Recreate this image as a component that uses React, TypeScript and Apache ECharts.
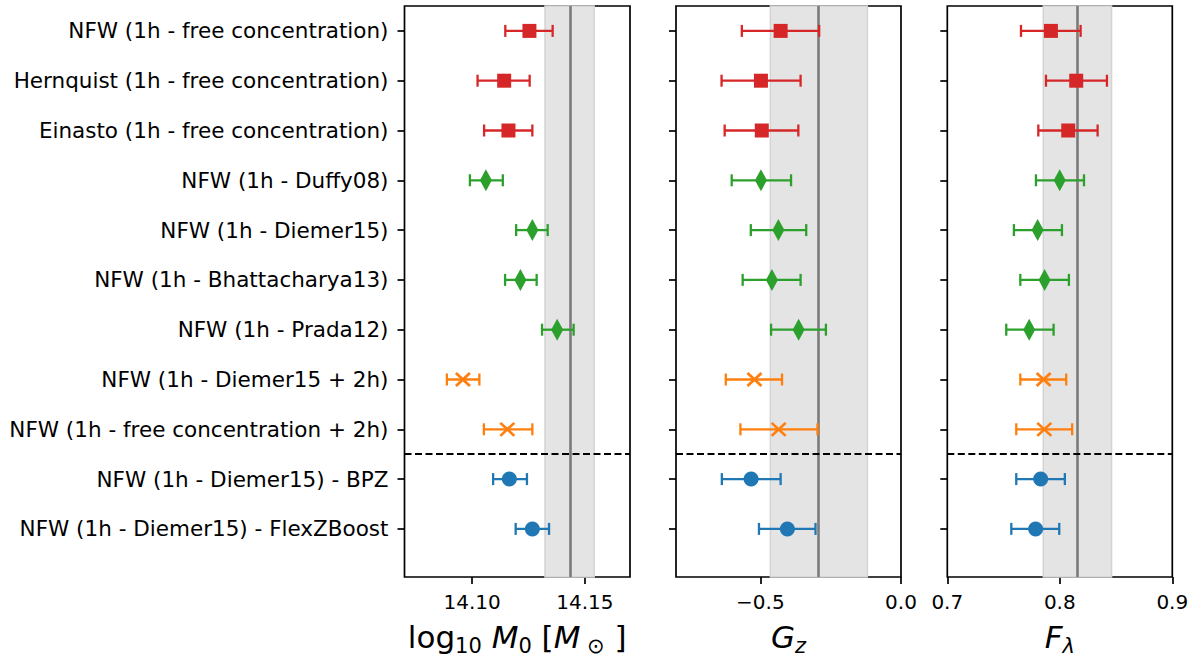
import React, { useEffect, useRef } from 'react';
import * as echarts from 'echarts';

const rowLabels = [
  'NFW (1h - free concentration)',
  'Hernquist (1h - free concentration)',
  'Einasto (1h - free concentration)',
  'NFW (1h - Duffy08)',
  'NFW (1h - Diemer15)',
  'NFW (1h - Bhattacharya13)',
  'NFW (1h - Prada12)',
  'NFW (1h - Diemer15 + 2h)',
  'NFW (1h - free concentration + 2h)',
  'NFW (1h - Diemer15) - BPZ',
  'NFW (1h - Diemer15) - FlexZBoost',
];
// group of each row: 0 free concentration, 1 c(M) relation, 2 with 2-halo, 3 photo-z
const rowGroup = [0, 0, 0, 1, 1, 1, 1, 2, 2, 3, 3];

const m0Val = [14.1254, 14.1142, 14.1161, 14.1061, 14.1267, 14.1214, 14.1377, 14.0959, 14.1156, 14.1165, 14.1267];
const m0Lo = [14.1147, 14.1024, 14.1053, 14.0990, 14.1195, 14.1146, 14.1310, 14.0888, 14.1052, 14.1093, 14.1193];
const m0Hi = [14.1357, 14.1255, 14.1267, 14.1136, 14.1335, 14.1286, 14.1450, 14.1032, 14.1267, 14.1243, 14.1341];

const gzVal = [-0.428, -0.498, -0.495, -0.498, -0.436, -0.459, -0.364, -0.521, -0.435, -0.533, -0.404];
const gzLo = [-0.566, -0.638, -0.627, -0.602, -0.534, -0.563, -0.462, -0.623, -0.571, -0.637, -0.505];
const gzHi = [-0.291, -0.357, -0.365, -0.391, -0.337, -0.357, -0.267, -0.423, -0.297, -0.428, -0.304];

const flVal = [0.7921, 0.8146, 0.8075, 0.7999, 0.7803, 0.7865, 0.7728, 0.7856, 0.7862, 0.7830, 0.7785];
const flLo = [0.7655, 0.7877, 0.7809, 0.7788, 0.7592, 0.7649, 0.7524, 0.7649, 0.7613, 0.7613, 0.7569];
const flHi = [0.8185, 0.8419, 0.8336, 0.8215, 0.8019, 0.8081, 0.7945, 0.8057, 0.8110, 0.8045, 0.7995];

// reference value and band for each parameter
const refM0 = 14.1434, bandM0 = [14.1323, 14.1541];
const refGz = -0.2933, bandGz = [-0.4645, -0.1195];
const refFl = 0.8152, bandFl = [0.7853, 0.846];
const separatorRow = 8.5;

const m0Ticks = [14.10, 14.15];
const gzTicks = [-0.5, 0.0];
const flTicks = [0.7, 0.8, 0.9];

const colors = ['#d62728', '#2ca02c', '#ff7f0e', '#1f77b4'];
const FONT = 'DejaVu Sans';

const markerFor = (g: number) => {
  if (g === 0) return { symbol: 'rect', symbolSize: 14, itemStyle: { color: colors[0], opacity: 1 } };
  if (g === 1) return { symbol: 'diamond', symbolSize: [12, 22], itemStyle: { color: colors[1], opacity: 1 } };
  if (g === 2)
    return {
      symbol: 'path://M0,0L10,10M10,0L0,10',
      symbolSize: [14, 13],
      itemStyle: { color: 'rgba(0,0,0,0)', borderColor: colors[2], borderWidth: 2.6, opacity: 1 },
    };
  return { symbol: 'circle', symbolSize: 15, itemStyle: { color: colors[3], opacity: 1 } };
};

const rowIdx = rowLabels.map((_, i) => i);

export default function App() {
  const ref = useRef<HTMLDivElement>(null);
  useEffect(() => {
    if (!ref.current) return;
    const chart = echarts.init(ref.current, undefined, { renderer: 'svg' });

    const grids = [
      { left: 404.5, top: 6, width: 225.5, height: 573.3 },
      { left: 676, top: 6, width: 225, height: 573.3 },
      { left: 947.3, top: 6, width: 225, height: 573.3 },
    ].map((g) => ({ ...g, show: true, borderColor: '#000', borderWidth: 1.7, backgroundColor: 'transparent' }));

    const nameRich = {
      r: { fontFamily: FONT, fontSize: 31, color: '#000', lineHeight: 40, verticalAlign: 'top' },
      i: { fontFamily: FONT, fontSize: 31, fontStyle: 'italic', color: '#000', lineHeight: 40, verticalAlign: 'top' },
      s: { fontFamily: FONT, fontSize: 21, color: '#000', lineHeight: 40, verticalAlign: 'top', padding: [14, 0, 0, 0] },
      si: { fontFamily: FONT, fontSize: 21, fontStyle: 'italic', color: '#000', lineHeight: 40, verticalAlign: 'top', padding: [14, 0, 0, 0] },
    };

    const mkX = (idx: number, min: number, max: number, ticks: number[], fmt: (v: number) => string, name: string) => ({
      type: 'value',
      gridIndex: idx,
      min,
      max,
      splitLine: { show: false },
      axisLine: { show: false, onZero: false },
      axisTick: { show: true, customValues: ticks, length: 7, lineStyle: { color: '#000', width: 1.7 } },
      axisLabel: { show: true, customValues: ticks, formatter: fmt, fontFamily: FONT, fontSize: 20, color: '#000', margin: 15 },
      name,
      nameLocation: 'middle',
      nameGap: 44,
      nameTextStyle: { rich: nameRich },
    });

    const mkY = (idx: number, showLabels: boolean) => ({
      type: 'value',
      gridIndex: idx,
      inverse: true,
      min: -0.5,
      max: 10.966,
      splitLine: { show: false },
      axisLine: { show: false, onZero: false },
      axisTick: { show: true, customValues: rowIdx, length: 7, lineStyle: { color: '#000', width: 1.7 } },
      axisLabel: {
        show: showLabels,
        customValues: rowIdx,
        formatter: (v: number) => rowLabels[Math.round(v)] ?? '',
        fontFamily: FONT,
        fontSize: 21.5,
        color: '#000',
        margin: 16,
      },
    });

    const panels = [
      { val: m0Val, lo: m0Lo, hi: m0Hi, ref: refM0, band: bandM0 },
      { val: gzVal, lo: gzLo, hi: gzHi, ref: refGz, band: bandGz },
      { val: flVal, lo: flLo, hi: flHi, ref: refFl, band: bandFl },
    ];

    const series: any[] = [];
    panels.forEach((p, k) => {
      series.push({
        type: 'line',
        xAxisIndex: k,
        yAxisIndex: k,
        data: [],
        z: 1,
        silent: true,
        markArea: {
          silent: true,
          precision: 6,
          z: 1,
          itemStyle: { color: '#e4e4e4', borderColor: '#d4d4d4', borderWidth: 1.5 },
          label: { show: false },
          data: [[{ xAxis: p.band[0] }, { xAxis: p.band[1] }]],
        },
        markLine: {
          silent: true,
          precision: 6,
          z: 2,
          symbol: 'none',
          label: { show: false },
          data: [
            { xAxis: p.ref, lineStyle: { color: '#7a7a7a', width: 2.6, type: 'solid' } },
            { yAxis: separatorRow, lineStyle: { color: '#000', width: 2, type: [7, 3.5] } },
          ],
        },
      });
      series.push({
        type: 'custom',
        xAxisIndex: k,
        yAxisIndex: k,
        z: 3,
        silent: true,
        encode: { x: 0, y: 1 },
        data: rowIdx.map((i) => [p.val[i], i, p.lo[i], p.hi[i]]),
        renderItem: (params: any, api: any) => {
          const y = api.value(1);
          const a = api.coord([api.value(2), y]);
          const b = api.coord([api.value(3), y]);
          const c = colors[rowGroup[params.dataIndex]];
          const st = { stroke: c, lineWidth: 2.3 };
          const cap = 6;
          return {
            type: 'group',
            children: [
              { type: 'line', shape: { x1: a[0], y1: a[1], x2: b[0], y2: b[1] }, style: st },
              { type: 'line', shape: { x1: a[0], y1: a[1] - cap, x2: a[0], y2: a[1] + cap }, style: st },
              { type: 'line', shape: { x1: b[0], y1: b[1] - cap, x2: b[0], y2: b[1] + cap }, style: st },
            ],
          };
        },
      });
      series.push({
        type: 'scatter',
        xAxisIndex: k,
        yAxisIndex: k,
        z: 4,
        silent: true,
        itemStyle: { opacity: 1 },
        data: rowIdx.map((i) => ({ value: [p.val[i], i], ...markerFor(rowGroup[i]) })),
      });
    });

    const option: any = {
      animation: false,
      backgroundColor: '#fff',
      textStyle: { fontFamily: FONT },
      grid: grids,
      xAxis: [
        mkX(0, 14.07, 14.17, m0Ticks, (v) => v.toFixed(2), '{r|log}{s|10}{i| M}{s|0}{r| [}{i|M}{s| ⊙}{r| ]}'),
        mkX(1, -0.8, 0, gzTicks, (v) => (v < 0 ? '\u2212' : '') + Math.abs(v).toFixed(1), '{i|G}{si|z}'),
        mkX(2, 0.7, 0.9, flTicks, (v) => v.toFixed(1), '{i|F}{si|λ}'),
      ],
      yAxis: [mkY(0, true), mkY(1, false), mkY(2, false)],
      series,
    };
    chart.setOption(option);
    return () => chart.dispose();
  }, []);
  return (
    <div
      ref={ref}
      style={{ position: 'absolute', left: 0, top: 0, width: 1197, height: 661, background: '#fff' }}
    />
  );
}
